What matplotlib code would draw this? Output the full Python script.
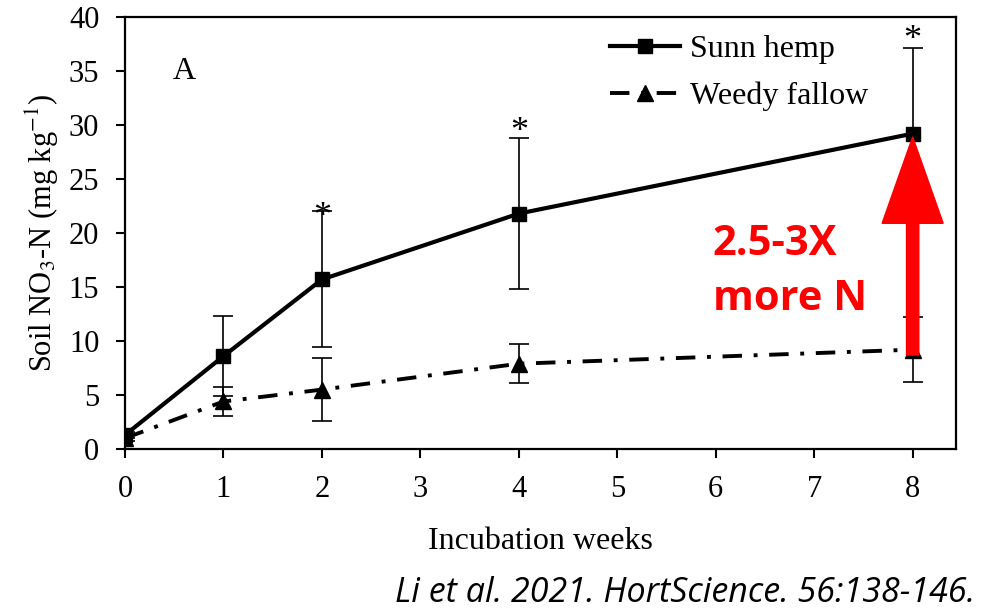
import matplotlib
matplotlib.use("Agg")
import matplotlib.pyplot as plt
from matplotlib.patches import FancyArrow
from matplotlib.lines import Line2D

weeks = [0, 1, 2, 4, 8]
sunn_hemp = [1.3, 8.6, 15.7, 21.8, 29.2]
sunn_err = [0.3, 3.7, 6.3, 7.0, 7.9]
weedy = [1.0, 4.4, 5.5, 7.9, 9.2]
weedy_err = [0.3, 1.3, 2.9, 1.8, 3.0]
star_x = [2, 4, 8]
star_y = [22.1, 30.0, 38.5]
xticks = [0, 1, 2, 3, 4, 5, 6, 7, 8]
yticks = [0, 5, 10, 15, 20, 25, 30, 35, 40]

plt.rcParams["mathtext.fontset"] = "stix"
serif = "Liberation Serif"
dashdot = (0, (5, 3, 1, 3))

fig = plt.figure(figsize=(9.83, 6.08), dpi=100)
ax = fig.add_axes([0.1272, 0.2615, 0.8453, 0.7105])

ax.errorbar(weeks, sunn_hemp, yerr=sunn_err, color="black", lw=3, marker="s",
            ms=10.5, elinewidth=1.2, capsize=7, capthick=1.2, zorder=3)
ax.errorbar(weeks, weedy, yerr=weedy_err, color="black", lw=2.8, marker="^",
            ms=12, elinewidth=1.2, capsize=7, capthick=1.2,
            linestyle=dashdot, zorder=3)

for sx, sy in zip(star_x, star_y):
    ax.text(sx, sy - 1.48, "*", ha="center", va="baseline", fontsize=26, family=serif)

ax.set_xlim(0, 8.44)
ax.set_ylim(0, 40)
ax.set_xticks(xticks)
ax.set_yticks(yticks)
ax.tick_params(direction="out", length=6.5, width=1.5, labelsize=22)
ax.tick_params(axis="x", pad=12)
ax.tick_params(axis="y", pad=12)
for lab in ax.get_xticklabels() + ax.get_yticklabels():
    lab.set_family(serif)
for s in ax.spines.values():
    s.set_linewidth(1.6)

ax.set_xlabel("Incubation weeks", family=serif, fontsize=23, labelpad=17)
ax.set_ylabel(r"Soil NO$_3$-N (mg kg$^{-1}$)", family=serif, fontsize=22, labelpad=6)
ax.text(0.6, 35, "A", family=serif, fontsize=23, ha="center", va="center")

handles = [
    Line2D([], [], color="black", lw=3, marker="s", ms=10.5),
    Line2D([], [], color="black", lw=2.8, marker="^", ms=12, linestyle=dashdot),
]
ax.legend(handles, ["Sunn hemp", "Weedy fallow"], loc="upper left",
          bbox_to_anchor=(0.5836, 0.959), frameon=False, borderpad=0, borderaxespad=0,
          prop={"family": serif, "size": 23}, handlelength=2.2,
          handletextpad=0.3, labelspacing=0.55)

arrow = FancyArrow(8, 8.7, 0, 20.2, width=0.125, head_width=0.62, head_length=8.0,
                   length_includes_head=True, color="#ff0000", zorder=5, clip_on=False)
ax.add_patch(arrow)
ax.text(5.97, 16.4, "2.5-3X\nmore N", color="#ff0000", fontsize=30, fontweight="bold",
        family="Open Sans", ha="left", va="center", linespacing=1.45, multialignment="left")

fig.text(0.992, 0.025, "Li et al. 2021. HortScience. 56:138-146.", ha="right", va="center",
         fontsize=24.5, style="italic", family="Open Sans")

fig.savefig("out.png", dpi=100)
